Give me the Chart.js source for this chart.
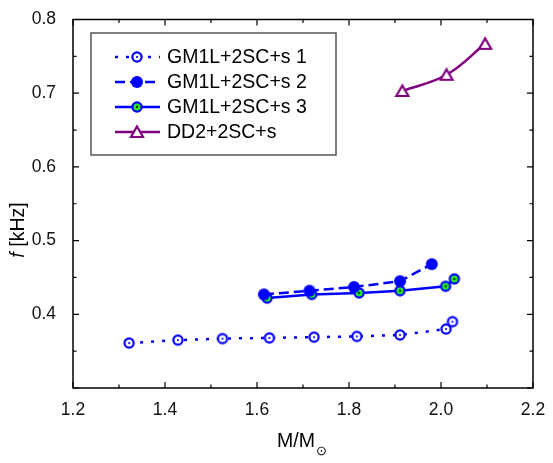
<!DOCTYPE html>
<html>
<head>
    <title>f vs M</title>
    <script src="https://cdn.jsdelivr.net/npm/chart.js"></script>
    <style>
        body { margin: 0; background: #fff; }
        #wrap { width: 553px; height: 463px; }
    </style>
</head>
<body>
    <div id="wrap"><canvas id="freqChart" width="553" height="463"></canvas></div>

    <script>
        // values
        const massS1 = [1.322, 1.428, 1.525, 1.627, 1.724, 1.817, 1.911, 2.011, 2.025];
        const freqS1 = [0.361, 0.365, 0.367, 0.368, 0.369, 0.370, 0.372, 0.380, 0.390];

        const massS2 = [1.615, 1.714, 1.811, 1.911, 1.980];
        const freqS2 = [0.427, 0.432, 0.437, 0.445, 0.468];

        const massS3 = [1.622, 1.719, 1.822, 1.911, 2.010, 2.029];
        const freqS3 = [0.422, 0.427, 0.429, 0.432, 0.438, 0.448];

        const massDD2 = [1.916, 2.012, 2.096];
        const freqDD2 = [0.703, 0.725, 0.767];

        const seriesNames = ['GM1L+2SC+s 1', 'GM1L+2SC+s 2', 'GM1L+2SC+s 3', 'DD2+2SC+s'];
        const xTicks = [1.2, 1.4, 1.6, 1.8, 2.0, 2.2];
        const yTicks = [0.4, 0.5, 0.6, 0.7, 0.8];

        const BLUE = '#0000ff';
        const PURPLE = '#800080';
        const FONT = '"Liberation Sans", Arial, sans-serif';

        function toPoints(xs, ys) {
            return xs.map((x, i) => ({ x: x, y: ys[i] }));
        }

        // marker images
        function marker(kind) {
            const c = document.createElement('canvas');
            c.width = 16; c.height = 16;
            const g = c.getContext('2d');
            g.lineWidth = 2.2;
            if (kind === 'ring') {
                g.beginPath(); g.arc(8, 8, 4.6, 0, Math.PI * 2);
                g.fillStyle = '#fff'; g.fill(); g.strokeStyle = BLUE; g.stroke();
                g.beginPath(); g.arc(8, 8, 1.1, 0, Math.PI * 2); g.fillStyle = BLUE; g.fill();
            } else if (kind === 'dot') {
                g.beginPath(); g.arc(8, 8, 6, 0, Math.PI * 2);
                g.fillStyle = BLUE; g.fill();
            } else if (kind === 'green') {
                g.beginPath(); g.arc(8, 8, 4.6, 0, Math.PI * 2);
                g.fillStyle = '#22ee22'; g.fill(); g.strokeStyle = BLUE; g.stroke();
                g.beginPath(); g.arc(8, 8, 1.2, 0, Math.PI * 2); g.fillStyle = '#003300'; g.fill();
            } else {
                g.beginPath(); g.moveTo(8, 2.5); g.lineTo(14, 13); g.lineTo(2, 13); g.closePath();
                g.fillStyle = '#fff'; g.fill(); g.strokeStyle = PURPLE; g.stroke();
            }
            return c;
        }

        const datasets = [
            { label: seriesNames[0], data: toPoints(massS1, freqS1), borderColor: BLUE, borderWidth: 2.5,
              borderDash: [3, 8], pointStyle: marker('ring') },
            { label: seriesNames[1], data: toPoints(massS2, freqS2), borderColor: BLUE, borderWidth: 2.5,
              borderDash: [10, 5], pointStyle: marker('dot') },
            { label: seriesNames[2], data: toPoints(massS3, freqS3), borderColor: BLUE, borderWidth: 2.5,
              pointStyle: marker('green') },
            { label: seriesNames[3], data: toPoints(massDD2, freqDD2), borderColor: PURPLE, borderWidth: 2.5,
              tension: 0.4, pointStyle: marker('tri') }
        ];

        // inward ticks, box, legend and titles
        const framePlugin = {
            id: 'frame',
            afterDraw(chart) {
                const ctx = chart.ctx;
                const a = chart.chartArea;
                const xs = chart.scales.x, ys = chart.scales.y;
                ctx.save();
                ctx.strokeStyle = '#000';
                ctx.lineWidth = 1.5;
                ctx.strokeRect(a.left, a.top, a.right - a.left, a.bottom - a.top);
                ctx.lineWidth = 1.2;
                for (let v = 1.2; v <= 2.2001; v += 0.1) {
                    const px = xs.getPixelForValue(v);
                    const major = Math.round(v * 10) % 2 === 0;
                    const len = major ? 6 : 3.5;
                    ctx.beginPath();
                    ctx.moveTo(px, a.bottom); ctx.lineTo(px, a.bottom - len);
                    ctx.moveTo(px, a.top); ctx.lineTo(px, a.top + len);
                    ctx.stroke();
                }
                for (let v = 0.3; v <= 0.8001; v += 0.05) {
                    const py = ys.getPixelForValue(v);
                    const major = Math.round(v * 100) % 10 === 0;
                    const len = major ? 6 : 3.5;
                    ctx.beginPath();
                    ctx.moveTo(a.left, py); ctx.lineTo(a.left + len, py);
                    ctx.moveTo(a.right, py); ctx.lineTo(a.right - len, py);
                    ctx.stroke();
                }

                // legend
                ctx.strokeStyle = '#555';
                ctx.lineWidth = 1.5;
                ctx.strokeRect(91, 33, 245, 122);
                const rows = [57, 82, 107, 132];
                chart.data.datasets.forEach((ds, i) => {
                    const y = rows[i];
                    ctx.strokeStyle = ds.borderColor;
                    ctx.lineWidth = 2.5;
                    ctx.setLineDash(ds.borderDash || []);
                    ctx.beginPath(); ctx.moveTo(115, y); ctx.lineTo(160, y); ctx.stroke();
                    ctx.setLineDash([]);
                    const img = ds.pointStyle;
                    ctx.drawImage(img, 137 - img.width / 2, y - img.height / 2);
                    ctx.fillStyle = '#000';
                    ctx.font = '19.5px ' + FONT;
                    ctx.textAlign = 'left';
                    ctx.textBaseline = 'middle';
                    ctx.fillText(ds.label, 167, y + 1);
                });

                // axis titles
                ctx.fillStyle = '#000';
                ctx.font = '19.5px ' + FONT;
                ctx.textBaseline = 'middle';
                ctx.textAlign = 'left';
                const mx = 277;
                ctx.fillText('M/M', mx, 442);
                const w = ctx.measureText('M/M').width;
                ctx.font = '13px ' + FONT;
                ctx.fillText('\u2299', mx + w + 1, 451);

                ctx.translate(19, 230);
                ctx.rotate(-Math.PI / 2);
                ctx.font = 'italic 19.5px ' + FONT;
                const fw = ctx.measureText('f').width;
                ctx.font = '19.5px ' + FONT;
                const rest = ' [kHz]';
                const rw = ctx.measureText(rest).width;
                const start = -(fw + rw) / 2;
                ctx.font = 'italic 19.5px ' + FONT;
                ctx.fillText('f', start, 0);
                ctx.font = '19.5px ' + FONT;
                ctx.fillText(rest, start + fw, 0);
                ctx.restore();
            }
        };

        const ctx = document.getElementById('freqChart').getContext('2d');
        new Chart(ctx, {
            type: 'line',
            data: { datasets: datasets },
            options: {
                responsive: false,
                animation: false,
                layout: { padding: 0 },
                plugins: { legend: { display: false }, tooltip: { enabled: false } },
                elements: { point: { radius: 6 }, line: { fill: false } },
                scales: {
                    x: {
                        type: 'linear', min: 1.2, max: 2.2,
                        afterBuildTicks: s => { s.ticks = xTicks.map(v => ({ value: v })); },
                        afterFit: s => { s.height = 75; },
                        grid: { display: false },
                        border: { display: false },
                        ticks: { color: '#111', font: { family: FONT, size: 17.5 }, padding: 4,
                                 callback: v => Number(v).toFixed(1) }
                    },
                    x2: {
                        type: 'linear', position: 'top', min: 1.2, max: 2.2,
                        afterFit: s => { s.height = 17; },
                        grid: { display: false }, border: { display: false },
                        ticks: { display: false }
                    },
                    y: {
                        type: 'linear', min: 0.3, max: 0.8,
                        afterBuildTicks: s => { s.ticks = yTicks.map(v => ({ value: v })); },
                        afterFit: s => { s.width = 73; },
                        grid: { display: false },
                        border: { display: false },
                        ticks: { color: '#111', font: { family: FONT, size: 17.5 }, padding: 9,
                                 callback: v => Number(v).toFixed(1) }
                    },
                    y2: {
                        type: 'linear', position: 'right', min: 0.3, max: 0.8,
                        afterFit: s => { s.width = 20; },
                        grid: { display: false }, border: { display: false },
                        ticks: { display: false }
                    }
                }
            },
            plugins: [framePlugin]
        });
    </script>
</body>
</html>
